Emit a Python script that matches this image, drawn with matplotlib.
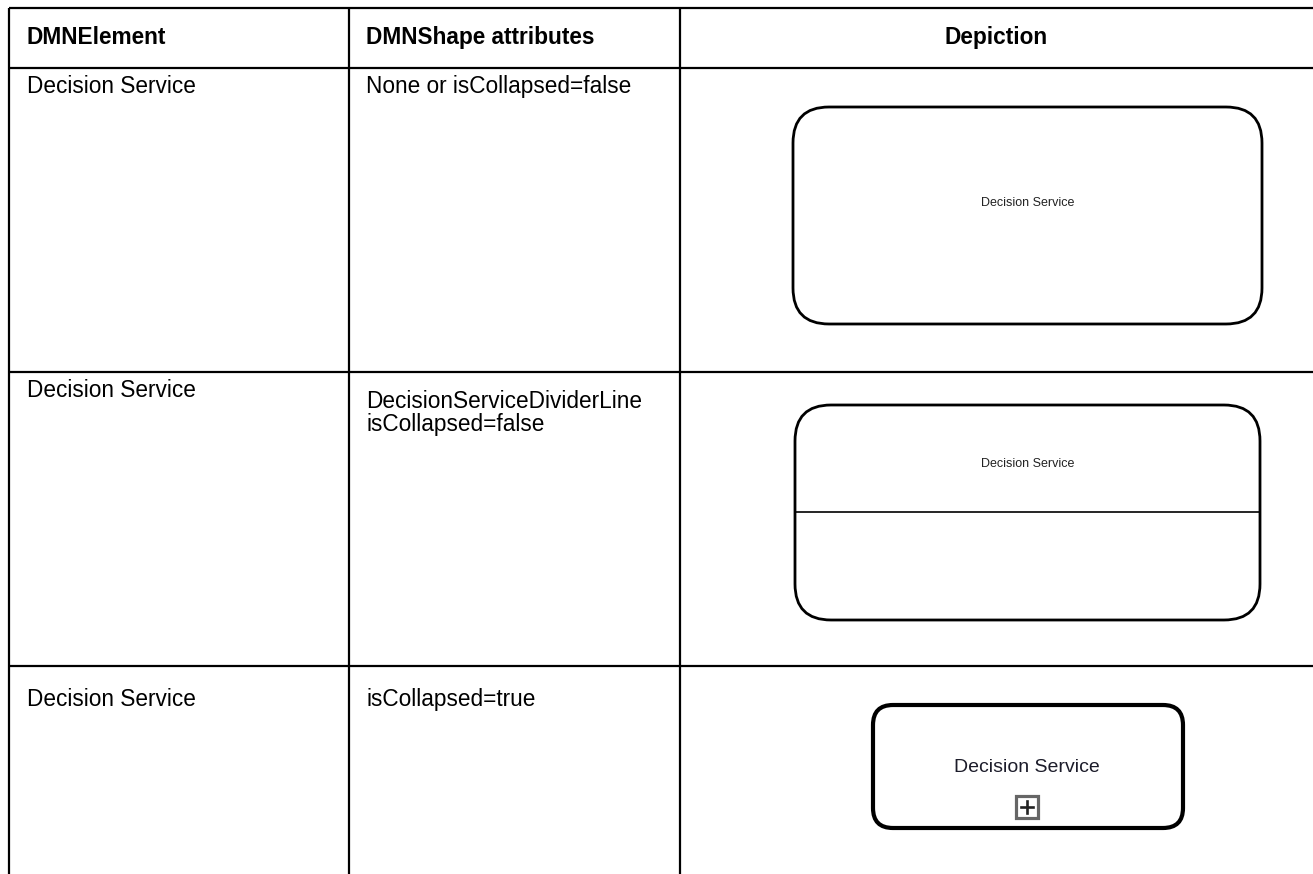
import matplotlib
matplotlib.use("Agg")
import matplotlib.pyplot as plt
from matplotlib.patches import FancyBboxPatch, Rectangle

plt.rcParams['font.family'] = ['Liberation Sans', 'DejaVu Sans']

# ---- table content ----
headers = ["DMNElement", "DMNShape attributes", "Depiction"]
elements = ["Decision Service", "Decision Service", "Decision Service"]
attributes = ["None or isCollapsed=false",
              "DecisionServiceDividerLine\nisCollapsed=false",
              "isCollapsed=true"]
shape_label = "Decision Service"

W, H = 1313, 874
fig = plt.figure(figsize=(W / 100, H / 100), dpi=100)
ax = fig.add_axes([0, 0, 1, 1])
ax.set_xlim(0, W)
ax.set_ylim(H, 0)
ax.axis('off')

# grid geometry (pixels)
x_left, x_c1, x_c2, x_right = 9, 349, 680, W + 5
y_top, y_head, y_r1, y_r2, y_bot = 8, 68, 372, 666, H + 5
lw_grid = 1.6
for y in [y_top, y_head, y_r1, y_r2]:
    ax.plot([x_left, x_right], [y, y], color='black', lw=lw_grid, solid_capstyle='butt')
for x in [x_left, x_c1, x_c2]:
    ax.plot([x, x], [y_top, y_bot], color='black', lw=lw_grid, solid_capstyle='butt')

fs = 16.3
# headers
ax.text(27, 44, headers[0], fontsize=fs, fontweight='bold', va='baseline', ha='left')
ax.text(366, 44, headers[1], fontsize=fs, fontweight='bold', va='baseline', ha='left')
ax.text((x_c2 + W) / 2, 44, headers[2], fontsize=fs, fontweight='bold', va='baseline', ha='center')

# baselines per row (col 1, col 2)
col1_base = [93, 397, 706]
col2_base = [93, 408, 706]
for b1, b2, el, at in zip(col1_base, col2_base, elements, attributes):
    ax.text(27, b1, el, fontsize=fs, va='baseline', ha='left')
    for i, ln in enumerate(at.split("\n")):
        ax.text(366, b2 + 23 * i, ln, fontsize=fs, va='baseline', ha='left')

# rounded shapes
def rbox(x0, y0, x1, y1, r, lw):
    p = FancyBboxPatch((x0, y0), x1 - x0, y1 - y0,
                       boxstyle=f"round,pad=0,rounding_size={r}",
                       fc='white', ec='black', lw=lw)
    ax.add_patch(p)

# shape 1: expanded decision service
rbox(793, 107, 1262, 324, 36, 2.0)
ax.text(1028, 203, shape_label, fontsize=9, ha='center', va='center', color='#222222')

# shape 2: with divider line
rbox(795, 405, 1260, 620, 36, 2.0)
ax.plot([795, 1260], [512, 512], color='black', lw=1.2)
ax.text(1028, 464, shape_label, fontsize=9, ha='center', va='center', color='#222222')

# shape 3: collapsed
rbox(873, 705, 1183, 828, 20, 3.0)
ax.text(1027, 768, shape_label, fontsize=14, ha='center', va='center', color='#1c1c2a')
sq = 22
cx, cy = 1027, 807
ax.add_patch(Rectangle((cx - sq / 2, cy - sq / 2), sq, sq, fc='white', ec='#666666', lw=2.3))
ax.plot([cx - 6, cx + 6], [cy, cy], color='#222222', lw=1.9)
ax.plot([cx, cx], [cy - 6, cy + 6], color='#222222', lw=1.9)

fig.savefig("out.png", dpi=100, facecolor='white')
